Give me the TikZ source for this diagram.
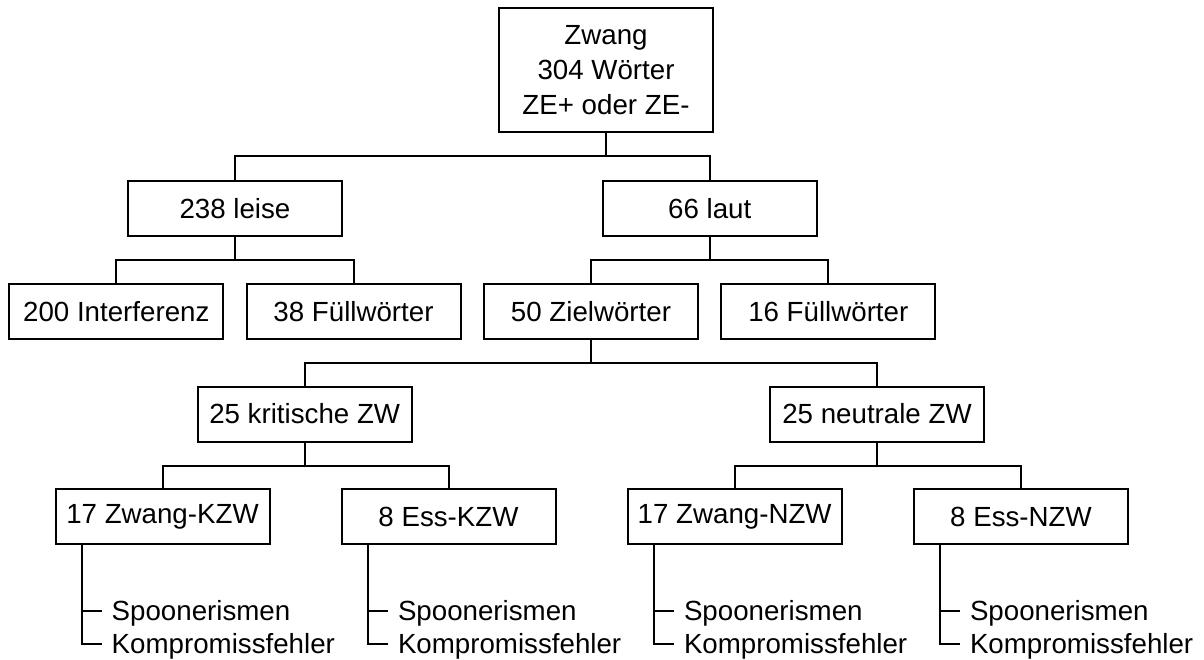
\documentclass[tikz,border=0pt]{standalone}
\usepackage{fontspec}
\setmainfont{Liberation Sans}
\begin{document}
\begin{tikzpicture}[x=1pt,y=-1pt,
  every node/.style={font=\fontsize{27.7pt}{35pt}\selectfont, inner sep=0pt, outer sep=0pt},
  box/.style={draw, line width=2pt, minimum width=214pt, minimum height=55pt, align=center},
  leaf/.style={anchor=west, text height=19.8pt, text depth=0pt},
  link/.style={line width=2pt},
  tick/.style={line width=2pt, shorten >=10pt}]
\useasboundingbox (0,0) rectangle (1204,660);

% tree boxes
\node[box, minimum height=124pt] (root) at (606,70) {Zwang\\304 Wörter\\ZE+ oder ZE-};
\node[box] (leise) at (235,208.5) {238 leise};
\node[box] (laut) at (709.7,208.5) {66 laut};
\node[box] (interf) at (116.3,311.5) {200 Interferenz};
\node[box] (fuellA) at (353.5,311.5) {38 Füllwörter};
\node[box] (ziel) at (591,311.5) {50 Zielwörter};
\node[box] (fuellB) at (828.3,311.5) {16 Füllwörter};
\node[box] (krit) at (304.7,414) {25 kritische ZW};
\node[box] (neut) at (877,414) {25 neutrale ZW};
\node[box] (zkzw) at (162.5,516.7) {17 Zwang-KZW};
\node[box] (ekzw) at (448.5,516.7) {8 Ess-KZW};
\node[box] (znzw) at (734.7,516.7) {17 Zwang-NZW};
\node[box] (enzw) at (1021,516.7) {8 Ess-NZW};

% error categories under each leaf box
\node[leaf] (spA) at (111.7,611) {Spoonerismen};
\node[leaf] (koA) at (111.7,644) {Kompromissfehler};
\node[leaf] (spB) at (398,611) {Spoonerismen};
\node[leaf] (koB) at (398,644) {Kompromissfehler};
\node[leaf] (spC) at (684,611) {Spoonerismen};
\node[leaf] (koC) at (684,644) {Kompromissfehler};
\node[leaf] (spD) at (970,611) {Spoonerismen};
\node[leaf] (koD) at (970,644) {Kompromissfehler};

% branch connectors
\foreach \p/\c in {root/leise, root/laut, leise/interf, leise/fuellA,
                   laut/ziel, laut/fuellB, ziel/krit, ziel/neut,
                   krit/zkzw, krit/ekzw, neut/znzw, neut/enzw}
  \draw[link] (\p.south) -- ++(0,24.3) -| (\c.north);

% list connectors
\foreach \b/\s/\k in {zkzw/spA/koA, ekzw/spB/koB, znzw/spC/koC, enzw/spD/koD} {
  \draw[tick] (\b.south west) ++(26.3,0) |- (\s.west);
  \draw[tick] (\b.south west) ++(26.3,0) |- (\k.west);
}
\end{tikzpicture}
\end{document}
